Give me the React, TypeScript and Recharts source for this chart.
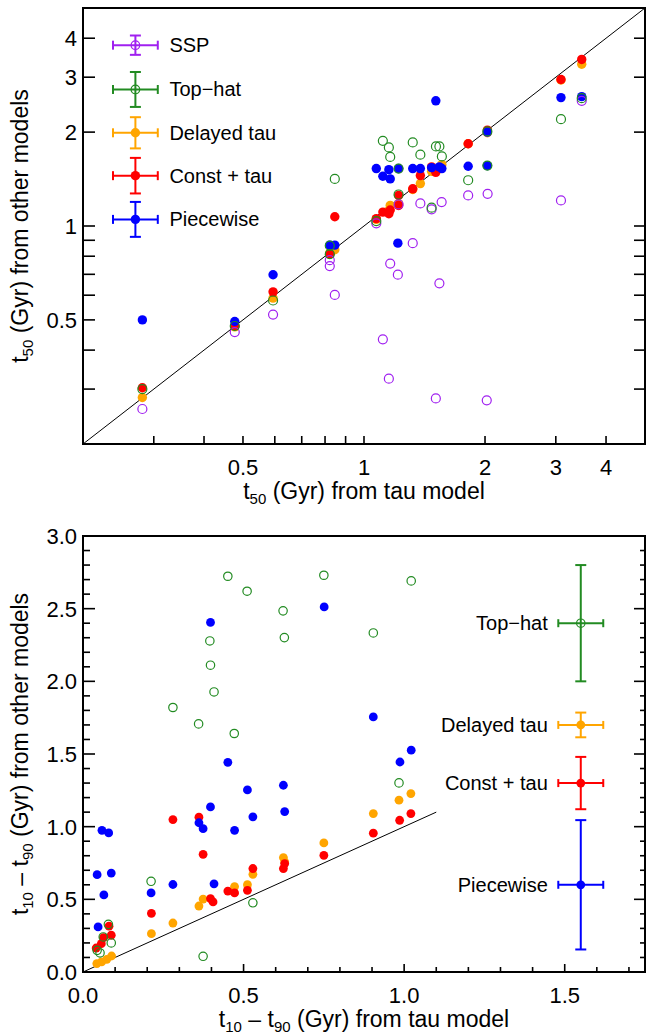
import { ScatterChart, Scatter, XAxis, YAxis, ReferenceLine, ErrorBar } from 'recharts'

const FONT = '"Liberation Sans", Arial, Helvetica, sans-serif'

const PURPLE = '#A020F0'
const GREEN = '#228B22'
const ORANGE = '#FFA500'
const RED = '#FF0000'
const BLUE = '#0000FF'

// ---- top panel: t50, log-log ----
const sspTop: [number, number][] = [
  [0.281, 0.259], [0.477, 0.457], [0.594, 0.52], [0.822, 0.777], [0.822, 0.744], [0.846, 0.601],
  [1.073, 1.02], [1.114, 0.433], [1.153, 0.324], [1.162, 0.758], [1.214, 0.698], [1.219, 1.173],
  [1.322, 0.881], [1.381, 1.181], [1.473, 1.131], [1.509, 0.28], [1.54, 0.655], [1.56, 1.193],
  [1.816, 1.253], [2.02, 0.276], [2.03, 1.268], [3.09, 1.208], [3.48, 2.52],
]
const topHatTop: [number, number][] = [
  [0.281, 0.3], [0.477, 0.478], [0.594, 0.577], [0.822, 0.865], [0.822, 0.812], [0.846, 1.416],
  [1.073, 1.037], [1.114, 1.876], [1.153, 1.786], [1.162, 1.665], [1.219, 1.528], [1.219, 1.262],
  [1.322, 1.853], [1.381, 1.693], [1.473, 1.145], [1.51, 1.8], [1.54, 1.8], [1.562, 1.672],
  [1.816, 1.402], [2.027, 1.562], [2.027, 2.01], [3.09, 2.2], [3.48, 2.57],
]
const delayedTop: [number, number][] = [
  [0.281, 0.282], [0.477, 0.475], [0.594, 0.587], [0.822, 0.82], [0.846, 0.839], [1.073, 1.05],
  [1.153, 1.12], [1.162, 1.164], [1.219, 1.18], [1.322, 1.309], [1.381, 1.368], [1.473, 1.497],
  [1.562, 1.573], [1.816, 1.835], [2.027, 1.99], [3.09, 2.94], [3.48, 3.3],
]
const constTop: [number, number][] = [
  [0.281, 0.303], [0.477, 0.478], [0.594, 0.615], [0.822, 0.812], [0.846, 1.071], [1.073, 1.056],
  [1.114, 1.108], [1.153, 1.095], [1.162, 1.125], [1.219, 1.253], [1.219, 1.164], [1.322, 1.316],
  [1.381, 1.451], [1.473, 1.547], [1.509, 1.486], [1.816, 1.835], [2.027, 2.03], [3.09, 2.95],
  [3.48, 3.42],
]
const pieceTop: [number, number][] = [
  [0.281, 0.5], [0.477, 0.494], [0.594, 0.698], [0.822, 0.868], [0.846, 0.868], [1.073, 1.528],
  [1.114, 1.444], [1.153, 1.516], [1.162, 1.416], [1.219, 1.528], [1.214, 0.881], [1.322, 1.528],
  [1.381, 1.528], [1.473, 1.539], [1.509, 2.52], [1.54, 1.547], [1.562, 1.528], [1.816, 1.554],
  [2.027, 1.562], [2.027, 2.0], [3.09, 2.58], [3.48, 2.6],
]

const logTicks = [0.3, 0.4, 0.5, 0.6, 0.7, 0.8, 0.9, 1, 2, 3, 4]
const logLabels = [0.5, 1, 2, 3, 4]

// key in the top panel (typical errors, dex)
const keyNamesTop = ['SSP', 'Top\u2212hat', 'Delayed tau', 'Const + tau', 'Piecewise']
const keyXTop = 0.27
const keyYTop = [3.8, 2.74, 1.99, 1.45, 1.05]
const keyErrYTop = [0.031, 0.056, 0.05, 0.057, 0.056]
const keyErrXTop = 0.0557

// ---- bottom panel: t10 - t90, linear ----
const topHatBot: [number, number][] = [
  [0.451, 2.723], [0.511, 2.62], [0.623, 2.485], [0.627, 2.301], [0.395, 2.278], [0.397, 2.111],
  [0.408, 1.927], [0.28, 1.82], [0.36, 1.707], [0.471, 1.641], [0.75, 2.73], [1.022, 2.691],
  [0.904, 2.333], [0.984, 1.301], [0.212, 0.624], [0.529, 0.476], [0.374, 0.108],
  [0.079, 0.328], [0.088, 0.2], [0.063, 0.241], [0.044, 0.149], [0.053, 0.131],
]
const delayedBot: [number, number][] = [
  [1.021, 1.228], [0.984, 1.182], [0.904, 1.09], [0.75, 0.888], [0.624, 0.787], [0.628, 0.757],
  [0.529, 0.672], [0.512, 0.601], [0.472, 0.588], [0.374, 0.502], [0.361, 0.454], [0.28, 0.337],
  [0.213, 0.264], [0.043, 0.058], [0.058, 0.069], [0.074, 0.087], [0.089, 0.11],
]
const constBot: [number, number][] = [
  [1.021, 1.09], [0.986, 1.044], [0.904, 0.955], [0.75, 0.803], [0.624, 0.712], [0.628, 0.746],
  [0.529, 0.712], [0.512, 0.562], [0.472, 0.544], [0.451, 0.557], [0.405, 0.482], [0.397, 0.505],
  [0.374, 0.81], [0.361, 1.065], [0.28, 1.049], [0.213, 0.404],
  [0.081, 0.315], [0.088, 0.253], [0.064, 0.237], [0.057, 0.195], [0.041, 0.165],
]
const pieceBot: [number, number][] = [
  [0.751, 2.512], [0.397, 2.405], [0.987, 1.445], [0.451, 1.443], [1.022, 1.526], [0.904, 1.755],
  [0.624, 1.285], [0.512, 1.253], [0.628, 1.104], [0.529, 1.068], [0.397, 1.136], [0.361, 1.027],
  [0.374, 0.986], [0.472, 0.975], [0.408, 0.607], [0.28, 0.602], [0.212, 0.544],
  [0.059, 0.975], [0.08, 0.957], [0.044, 0.67], [0.088, 0.681], [0.065, 0.53], [0.047, 0.31],
]

const xTicksBot = [0, 0.1, 0.2, 0.3, 0.4, 0.5, 0.6, 0.7, 0.8, 0.9, 1, 1.1, 1.2, 1.3, 1.4, 1.5, 1.6, 1.7]
const xLabelsBot = [0, 0.5, 1, 1.5]
const yTicksBot = [
  0, 0.1, 0.2, 0.3, 0.4, 0.5, 0.6, 0.7, 0.8, 0.9, 1, 1.1, 1.2, 1.3, 1.4, 1.5,
  1.6, 1.7, 1.8, 1.9, 2, 2.1, 2.2, 2.3, 2.4, 2.5, 2.6, 2.7, 2.8, 2.9, 3,
]
const yLabelsBot = [0, 0.5, 1, 1.5, 2, 2.5, 3]

const keyNamesBot = ['Top\u2212hat', 'Delayed tau', 'Const + tau', 'Piecewise']
const keyXBot = 1.55
const keyYBot = [2.4, 1.7, 1.3, 0.6]
const keyErrYBot = [0.4, 0.085, 0.18, 0.445]
const keyErrXBot = 0.07

const pts = (a: [number, number][]) => a.map(([x, y]) => ({ x, y }))

type Side = 'bottom' | 'top' | 'left' | 'right'

function tickMaker(side: Side, labels: number[], majorLen: number, minorLen: number, fmt: (v: number) => string) {
  return (props: any) => {
    const { x, y, payload } = props
    const v = payload.value as number
    const major = labels.some((m) => Math.abs(m - v) < 1e-6)
    const len = major ? majorLen : minorLen
    let x2 = x
    let y2 = y
    if (side === 'bottom') y2 = y - len
    if (side === 'top') y2 = y + len
    if (side === 'left') x2 = x + len
    if (side === 'right') x2 = x - len
    return (
      <g>
        <line x1={x} y1={y} x2={x2} y2={y2} stroke="#000" strokeWidth={1.6} />
        {major && side === 'bottom' && (
          <text x={x} y={y + 31} textAnchor="middle" fontSize={22} fontFamily={FONT} fill="#000">
            {fmt(v)}
          </text>
        )}
        {major && side === 'left' && (
          <text x={x - 6} y={y + 8} textAnchor="end" fontSize={22} fontFamily={FONT} fill="#000">
            {fmt(v)}
          </text>
        )}
      </g>
    )
  }
}

const dot = (fill: string, r: number) => (p: any) => <circle cx={p.cx} cy={p.cy} r={r} fill={fill} />
const ring = (stroke: string, r: number) => (p: any) => (
  <circle cx={p.cx} cy={p.cy} r={r} fill="none" stroke={stroke} strokeWidth={1.2} />
)

const keyShape = (color: string, open: boolean, r: number, side: 'right' | 'left', dx: number) => (p: any) => {
  const name = p.payload?.name ?? p.name
  return (
    <g>
      {open ? (
        <circle cx={p.cx} cy={p.cy} r={r} fill="none" stroke={color} strokeWidth={1.2} />
      ) : (
        <circle cx={p.cx} cy={p.cy} r={r} fill={color} />
      )}
      <text
        x={side === 'right' ? p.cx + dx : p.cx - dx}
        y={p.cy + 7}
        textAnchor={side === 'right' ? 'start' : 'end'}
        fontSize={20}
        fontFamily={FONT}
        fill="#000"
      >
        {name}
      </text>
    </g>
  )
}

const axisLine = { stroke: '#000', strokeWidth: 2, strokeLinecap: 'square' as const }

function xTitle(sub1: string, rest: string, sub2?: string) {
  return (p: any) => {
    const vb = p.viewBox
    return (
      <text x={vb.x + vb.width / 2} y={vb.y + 55} textAnchor="middle" fontSize={23} fontFamily={FONT} fill="#000">
        t<tspan fontSize={15} dy={5}>{sub1}</tspan>
        {sub2 ? (
          <>
            <tspan dy={-5}>{' \u2013 t'}</tspan>
            <tspan fontSize={15} dy={5}>{sub2}</tspan>
          </>
        ) : null}
        <tspan dy={-5}>{rest}</tspan>
      </text>
    )
  }
}

function yTitle(sub1: string, rest: string, sub2?: string) {
  return (p: any) => {
    const vb = p.viewBox
    const cy = vb.y + vb.height / 2
    return (
      <text
        transform={`translate(28, ${cy}) rotate(-90)`}
        textAnchor="middle"
        fontSize={23}
        fontFamily={FONT}
        fill="#000"
      >
        t<tspan fontSize={15} dy={5}>{sub1}</tspan>
        {sub2 ? (
          <>
            <tspan dy={-5}>{' \u2013 t'}</tspan>
            <tspan fontSize={15} dy={5}>{sub2}</tspan>
          </>
        ) : null}
        <tspan dy={-5}>{rest}</tspan>
      </text>
    )
  }
}

const fmtLog = (v: number) => String(v)
const fmtLin = (v: number) => v.toFixed(1)

function TopChart() {
  const keyColors = [PURPLE, GREEN, ORANGE, RED, BLUE]
  const keyOpen = [true, true, false, false, false]
  return (
    <ScatterChart width={646} height={510} margin={{ top: 0, right: 0, bottom: 0, left: 0 }}>
      <XAxis
        xAxisId="b"
        orientation="bottom"
        type="number"
        dataKey="x"
        scale="log"
        domain={[0.2, 5]}
        allowDataOverflow
        ticks={logTicks}
        interval={0}
        height={66}
        tickSize={0}
        tickMargin={0}
        axisLine={axisLine}
        tick={tickMaker('bottom', logLabels, 8, 8, fmtLog)}
        label={xTitle('50', ' (Gyr) from tau model')}
      />
      <XAxis
        xAxisId="t"
        orientation="top"
        type="number"
        scale="log"
        domain={[0.2, 5]}
        allowDataOverflow
        ticks={logTicks}
        interval={0}
        height={8}
        tickSize={0}
        tickMargin={0}
        axisLine={axisLine}
        tick={tickMaker('top', logLabels, 8, 8, fmtLog)}
      />
      <YAxis
        yAxisId="l"
        orientation="left"
        type="number"
        dataKey="y"
        scale="log"
        domain={[0.2, 5]}
        allowDataOverflow
        ticks={logTicks}
        interval={0}
        width={83}
        tickSize={0}
        tickMargin={0}
        axisLine={axisLine}
        tick={tickMaker('left', logLabels, 12, 12, fmtLog)}
        label={yTitle('50', ' (Gyr) from other models')}
      />
      <YAxis
        yAxisId="r"
        orientation="right"
        type="number"
        scale="log"
        domain={[0.2, 5]}
        allowDataOverflow
        ticks={logTicks}
        interval={0}
        width={1}
        tickSize={0}
        tickMargin={0}
        axisLine={axisLine}
        tick={tickMaker('right', logLabels, 11, 11, fmtLog)}
      />
      <ReferenceLine
        xAxisId="b"
        yAxisId="l"
        segment={[{ x: 0.2, y: 0.2 }, { x: 5, y: 5 }]}
        stroke="#000"
        strokeWidth={1}
        ifOverflow="visible"
      />
      <Scatter xAxisId="b" yAxisId="l" data={pts(delayedTop)} shape={dot(ORANGE, 4.7)} isAnimationActive={false} />
      <Scatter xAxisId="b" yAxisId="l" data={pts(constTop)} shape={dot(RED, 4.7)} isAnimationActive={false} />
      <Scatter xAxisId="b" yAxisId="l" data={pts(pieceTop)} shape={dot(BLUE, 4.7)} isAnimationActive={false} />
      <Scatter xAxisId="b" yAxisId="l" data={pts(sspTop)} shape={ring(PURPLE, 4.5)} isAnimationActive={false} />
      <Scatter xAxisId="b" yAxisId="l" data={pts(topHatTop)} shape={ring(GREEN, 4.5)} isAnimationActive={false} />
      {keyNamesTop.map((name, i) => {
        const y = keyYTop[i]
        const fy = Math.pow(10, keyErrYTop[i])
        const fx = Math.pow(10, keyErrXTop)
        const d = [
          {
            name,
            x: keyXTop,
            y,
            ex: [keyXTop - keyXTop / fx, keyXTop * fx - keyXTop],
            ey: [y - y / fy, y * fy - y],
          },
        ]
        return (
          <Scatter
            key={name}
            xAxisId="b"
            yAxisId="l"
            data={d}
            shape={keyShape(keyColors[i], keyOpen[i], keyOpen[i] ? 4.3 : 4.7, 'right', 34)}
            isAnimationActive={false}
          >
            <ErrorBar dataKey="ex" direction="x" stroke={keyColors[i]} strokeWidth={2} width={4.5} isAnimationActive={false} />
            <ErrorBar dataKey="ey" direction="y" stroke={keyColors[i]} strokeWidth={2} width={5.5} isAnimationActive={false} />
          </Scatter>
        )
      })}
    </ScatterChart>
  )
}

function BottomChart() {
  const keyColors = [GREEN, ORANGE, RED, BLUE]
  const keyOpen = [true, false, false, false]
  return (
    <ScatterChart width={646} height={526} margin={{ top: 0, right: 0, bottom: 0, left: 0 }}>
      <XAxis
        xAxisId="b"
        orientation="bottom"
        type="number"
        dataKey="x"
        domain={[0, 1.75]}
        allowDataOverflow
        ticks={xTicksBot}
        interval={0}
        height={64}
        tickSize={0}
        tickMargin={0}
        axisLine={axisLine}
        tick={tickMaker('bottom', xLabelsBot, 8, 5, fmtLin)}
        label={xTitle('10', ' (Gyr) from tau model', '90')}
      />
      <XAxis
        xAxisId="t"
        orientation="top"
        type="number"
        domain={[0, 1.75]}
        allowDataOverflow
        ticks={xTicksBot}
        interval={0}
        height={26}
        tickSize={0}
        tickMargin={0}
        axisLine={axisLine}
        tick={tickMaker('top', xLabelsBot, 8, 5, fmtLin)}
      />
      <YAxis
        yAxisId="l"
        orientation="left"
        type="number"
        dataKey="y"
        domain={[0, 3]}
        allowDataOverflow
        ticks={yTicksBot}
        interval={0}
        width={83}
        tickSize={0}
        tickMargin={0}
        axisLine={axisLine}
        tick={tickMaker('left', yLabelsBot, 12, 7, fmtLin)}
        label={yTitle('10', ' (Gyr) from other models', '90')}
      />
      <YAxis
        yAxisId="r"
        orientation="right"
        type="number"
        domain={[0, 3]}
        allowDataOverflow
        ticks={yTicksBot}
        interval={0}
        width={1}
        tickSize={0}
        tickMargin={0}
        axisLine={axisLine}
        tick={tickMaker('right', yLabelsBot, 11, 5, fmtLin)}
      />
      <ReferenceLine
        xAxisId="b"
        yAxisId="l"
        segment={[{ x: 0, y: 0 }, { x: 1.1, y: 1.1 }]}
        stroke="#000"
        strokeWidth={1}
        ifOverflow="visible"
      />
      <Scatter xAxisId="b" yAxisId="l" data={pts(delayedBot)} shape={dot(ORANGE, 4.4)} isAnimationActive={false} />
      <Scatter xAxisId="b" yAxisId="l" data={pts(constBot)} shape={dot(RED, 4.4)} isAnimationActive={false} />
      <Scatter xAxisId="b" yAxisId="l" data={pts(pieceBot)} shape={dot(BLUE, 4.4)} isAnimationActive={false} />
      <Scatter xAxisId="b" yAxisId="l" data={pts(topHatBot)} shape={ring(GREEN, 4.2)} isAnimationActive={false} />
      {keyNamesBot.map((name, i) => {
        const d = [{ name, x: keyXBot, y: keyYBot[i], ex: keyErrXBot, ey: keyErrYBot[i] }]
        return (
          <Scatter
            key={name}
            xAxisId="b"
            yAxisId="l"
            data={d}
            shape={keyShape(keyColors[i], keyOpen[i], keyOpen[i] ? 4.2 : 4.4, 'left', 33)}
            isAnimationActive={false}
          >
            <ErrorBar dataKey="ex" direction="x" stroke={keyColors[i]} strokeWidth={2} width={4} isAnimationActive={false} />
            <ErrorBar dataKey="ey" direction="y" stroke={keyColors[i]} strokeWidth={2} width={5.5} isAnimationActive={false} />
          </Scatter>
        )
      })}
    </ScatterChart>
  )
}

export default function App() {
  return (
    <div style={{ position: 'absolute', left: 0, top: 0, width: 646, height: 1036, background: '#fff' }}>
      <TopChart />
      <BottomChart />
    </div>
  )
}
